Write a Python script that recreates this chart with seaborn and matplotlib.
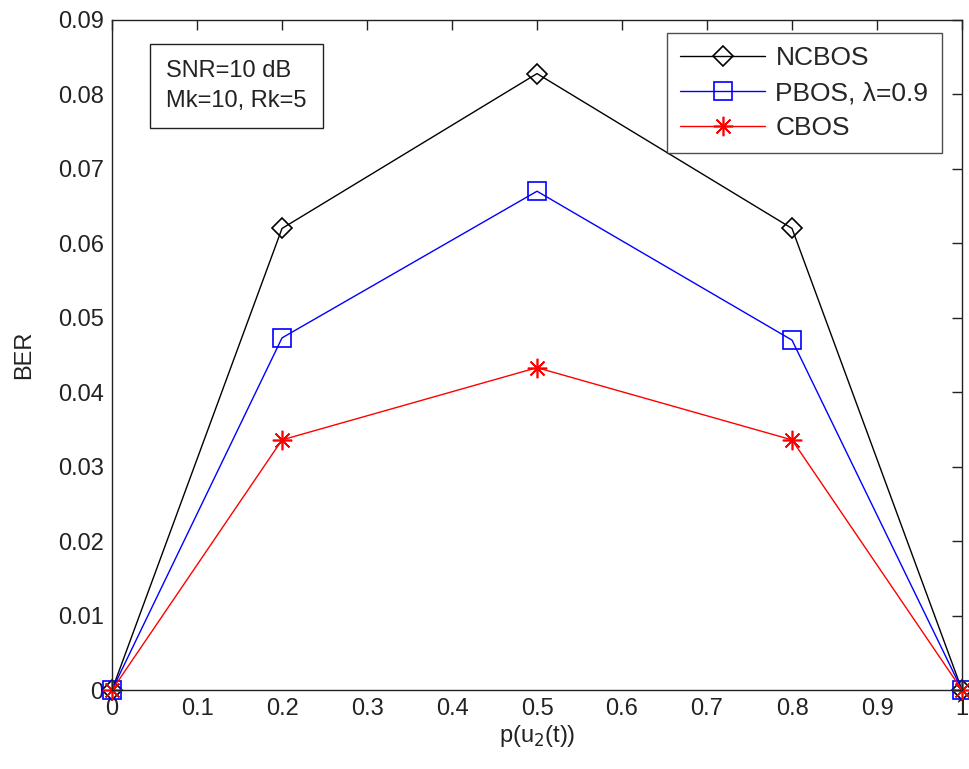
import numpy as np
import pandas as pd
import matplotlib
matplotlib.use("Agg")
import matplotlib.pyplot as plt
import seaborn as sns

sns.set_style("white")
plt.rcParams['font.family'] = ['Liberation Sans', 'DejaVu Sans']

# data
p_u2 = [0, 0.2, 0.5, 0.8, 1.0]
ber_ncbos = [0, 0.062, 0.0828, 0.062, 0]
ber_pbos = [0, 0.0473, 0.067, 0.047, 0]
ber_cbos = [0, 0.0336, 0.0433, 0.0336, 0]

series_names = ['NCBOS', 'PBOS, λ=0.9', 'CBOS']
series_vals = [ber_ncbos, ber_pbos, ber_cbos]
colors = ['black', 'blue', 'red']
markers = ['D', 's', (8, 2, 0)]
msizes = [10, 13, 14]

fig = plt.figure(figsize=(9.69, 7.69), dpi=100)
ax = fig.add_axes([0.1156, 0.1027, 0.8772, 0.8713])

for name, vals, c, m, ms in zip(series_names, series_vals, colors, markers, msizes):
    df = pd.DataFrame({'p': p_u2, 'ber': vals})
    sns.lineplot(data=df, x='p', y='ber', ax=ax, color=c, marker=m, markersize=ms,
                 markerfacecolor='none', markeredgecolor=c,
                 markeredgewidth=1.2, linewidth=1.0,
                 label=name, clip_on=False)

ax.set_xlim(0, 1)
ax.set_ylim(0, 0.09)
ax.set_xticks(np.arange(0, 1.01, 0.1))
ax.set_xticklabels(['0', '0.1', '0.2', '0.3', '0.4', '0.5', '0.6', '0.7', '0.8', '0.9', '1'])
ax.set_yticks(np.arange(0, 0.0901, 0.01))
ax.set_yticklabels(['0', '0.01', '0.02', '0.03', '0.04', '0.05', '0.06', '0.07', '0.08', '0.09'])
ax.tick_params(direction='in', length=7, width=1, top=True, right=True,
               labelsize=17, colors='#222222', pad=6)
for s in ax.spines.values():
    s.set_color('#222222')
    s.set_linewidth(1)

ax.set_xlabel('p(u$_2$(t))', fontsize=17, color='#222222', labelpad=2)
ax.set_ylabel('BER', fontsize=17, color='#222222', labelpad=16)

leg = ax.legend(loc='upper right', bbox_to_anchor=(0.976, 0.981), borderaxespad=0,
                fontsize=19, frameon=True, fancybox=False, edgecolor='#222222',
                handlelength=3.2, borderpad=0.5, labelspacing=0.42, handletextpad=0.4)
leg.get_frame().set_linewidth(1)

ax.text(0.064, 0.94, 'SNR=10 dB\nMk=10, Rk=5', transform=ax.transAxes,
        fontsize=17, va='top', ha='left', color='#222222', linespacing=1.45,
        bbox=dict(boxstyle='square,pad=0.7', facecolor='white', edgecolor='#222222', linewidth=1))

fig.savefig('out.png', dpi=100)
